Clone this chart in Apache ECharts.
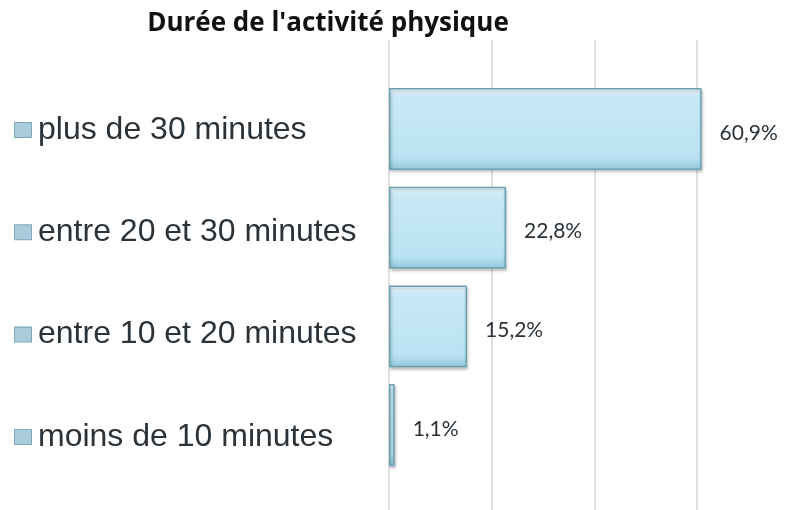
<!DOCTYPE html>
<html>
<head>
    <meta charset="utf-8" />
    <script type="text/javascript" src="https://cdn.jsdelivr.net/npm/echarts@6/dist/echarts.min.js"></script>
    <style type="text/css">
    html, body {
        margin: 0;
        padding: 0;
        background-color: #ffffff;
    }

    #chart {
        width: 788px;
        height: 510px;
    }
    </style>
</head>
<body>
    <div id="chart"></div>
    <script type="text/javascript">
    // données
    let categories = ['plus de 30 minutes', 'entre 20 et 30 minutes', 'entre 10 et 20 minutes', 'moins de 10 minutes'];
    let values = [60.9, 22.8, 15.2, 1.1];
    let xTicks = [0, 20, 40, 60, 80];

    let txtColor = '#2b3339';

    let barFill = new echarts.graphic.LinearGradient(0, 0, 0, 1, [
        {offset: 0, color: '#f6fcfe'},
        {offset: 0.1, color: '#c8e9f6'},
        {offset: 0.85, color: '#bae2f2'},
        {offset: 1, color: '#93c6d9'}
    ]);

    // axe x sans rien d'affiché (grilles 1 et 2)
    function hiddenX(idx) {
        return {
            gridIndex: idx,
            type: 'value',
            min: xTicks[0],
            max: xTicks[xTicks.length - 1],
            interval: 20,
            axisLine: {show: false},
            axisTick: {show: false},
            axisLabel: {show: false},
            splitLine: {show: false}
        };
    }

    let opt = {
        animation: false,
        title: {
            text: "Durée de l'activité physique",
            left: 323,
            top: 6,
            textAlign: 'center',
            textStyle: {
                fontFamily: 'Open Sans',
                fontWeight: 'bold',
                fontSize: 26,
                color: '#111111'
            }
        },
        grid: [
            // lignes verticales (plus hautes que les barres)
            {left: 389, width: 410.67, top: 40, bottom: -10, outerBoundsMode: 'none'},
            // barres
            {left: 389, width: 410.67, top: 79.7, height: 394.6, outerBoundsMode: 'none'},
            // libellés des catégories (un peu plus espacés que les barres)
            {left: 389, width: 410.67, top: 78.8, height: 409.3, outerBoundsMode: 'none'}
        ],
        xAxis: [{
            gridIndex: 0,
            type: 'value',
            min: xTicks[0],
            max: xTicks[xTicks.length - 1],
            interval: 20,
            axisLine: {show: false},
            axisTick: {show: false},
            axisLabel: {show: false},
            splitLine: {
                show: true,
                lineStyle: {color: '#d2d5d7', width: 1.5}
            }
        }, hiddenX(1), hiddenX(2)],
        yAxis: [{
            gridIndex: 0,
            type: 'category',
            data: categories,
            show: false
        }, {
            gridIndex: 1,
            type: 'category',
            data: categories,
            inverse: true,
            axisLine: {show: false},
            axisTick: {show: false},
            axisLabel: {show: false}
        }, {
            gridIndex: 2,
            type: 'category',
            data: categories,
            inverse: true,
            axisLine: {show: false},
            axisTick: {show: false},
            axisLabel: {
                align: 'left',
                margin: 374,
                formatter: function (value) {
                    return '{i|}{s|}{t|' + value + '}';
                },
                rich: {
                    i: {
                        width: 16,
                        height: 14,
                        backgroundColor: '#a9cbdb',
                        borderColor: '#7ea9bb',
                        borderWidth: 1,
                        verticalAlign: 'middle'
                    },
                    s: {
                        width: 7
                    },
                    t: {
                        fontFamily: 'Liberation Sans',
                        fontSize: 32,
                        color: txtColor,
                        verticalAlign: 'middle'
                    }
                }
            }
        }],
        series: [{
            type: 'bar',
            xAxisIndex: 1,
            yAxisIndex: 1,
            data: values,
            barCategoryGap: '17%',
            itemStyle: {
                color: barFill,
                borderColor: '#6aa3b6',
                borderWidth: 1.5,
                shadowColor: 'rgba(0, 0, 0, 0.25)',
                shadowBlur: 3,
                shadowOffsetX: 1,
                shadowOffsetY: 2
            },
            label: {
                show: true,
                position: 'right',
                distance: 18,
                offset: [0, 4],
                fontFamily: 'Lato',
                fontSize: 21,
                color: txtColor,
                formatter: function (p) {
                    return p.value.toFixed(1).replace('.', ',') + '%';
                }
            }
        }]
    };

    let chart = echarts.init(document.getElementById('chart'));
    chart.setOption(opt);
    </script>
</body>
</html>
